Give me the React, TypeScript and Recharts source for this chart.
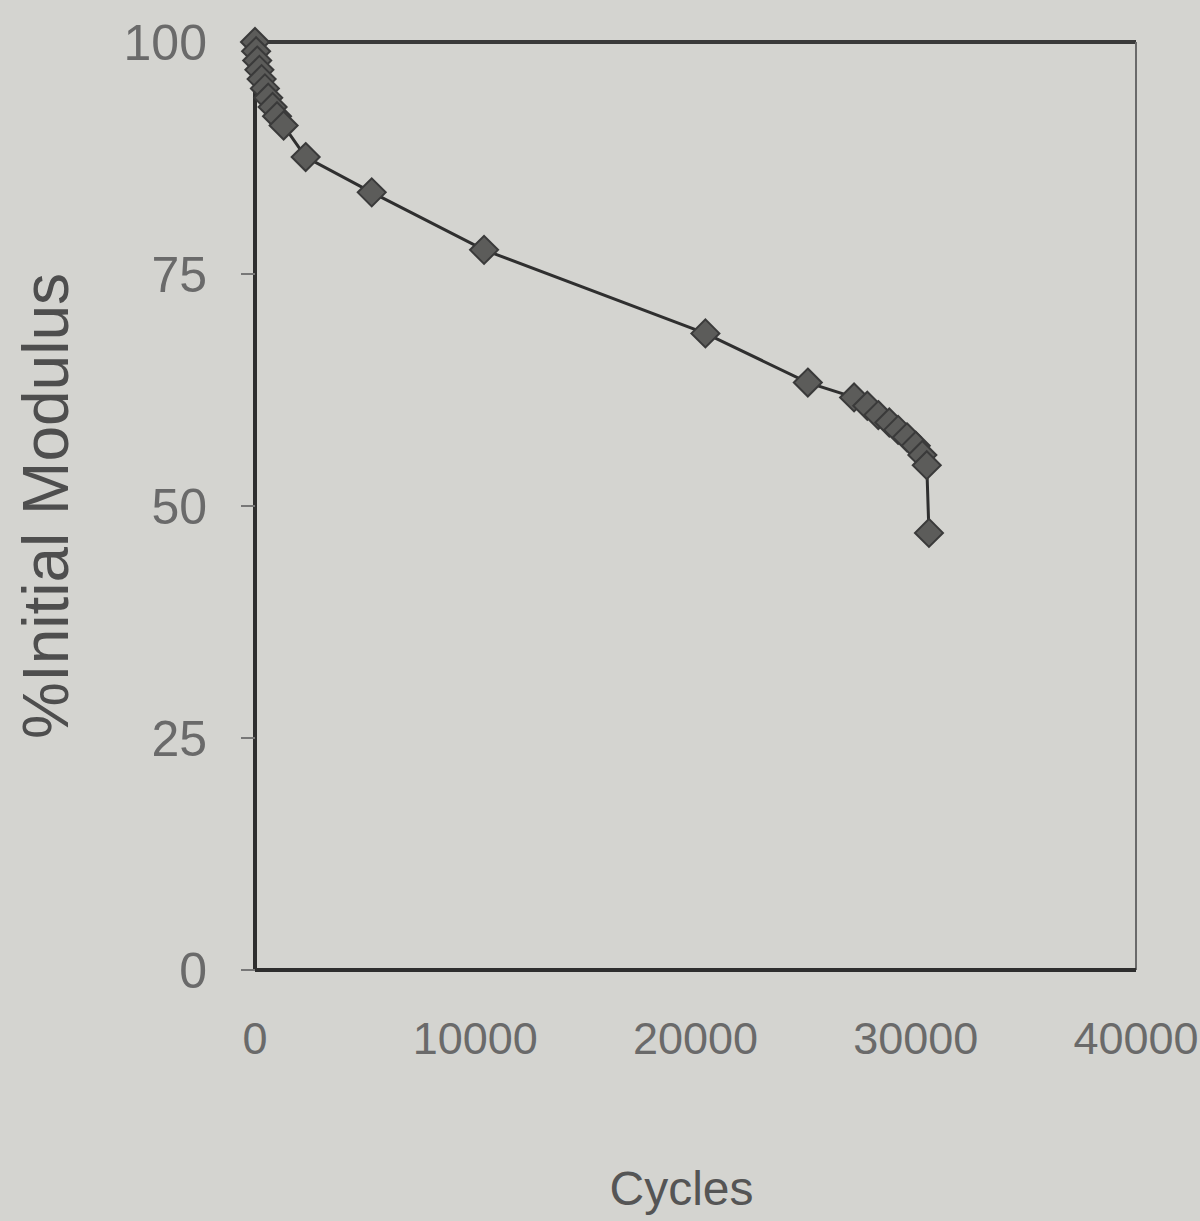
import React from 'react';
import { LineChart, Line, XAxis, YAxis, ReferenceLine } from 'recharts';

const cycles = [0, 50, 100, 200, 300, 450, 600, 800, 1000, 1300, 2300, 5300, 10400, 20450, 25100, 27200, 27800, 28300, 28800, 29200, 29600, 30000, 30300, 30500, 30600];
const modulus = [100, 99, 98, 97, 96, 95, 94, 93, 92, 91, 87.6, 83.8, 77.6, 68.6, 63.3, 61.7, 60.8, 59.8, 59, 58.2, 57.4, 56.5, 55.5, 54.4, 47.1];
const xTicks = [0, 10000, 20000, 30000, 40000];
const yTicks = [0, 25, 50, 75, 100];

const data = cycles.map((c, i) => ({ cycles: c, modulus: modulus[i] }));

const FONT = '"Liberation Sans", Arial, sans-serif';

const Diamond = (props: any) => {
  const { cx, cy } = props;
  if (cx == null || cy == null) return null;
  const r = 14;
  return (
    <polygon
      points={`${cx},${cy - r} ${cx + r},${cy} ${cx},${cy + r} ${cx - r},${cy}`}
      fill="#5c5c5a"
      stroke="#3a3a3a"
      strokeWidth={2}
    />
  );
};

export default function App() {
  return (
    <div style={{ position: 'fixed', left: 0, top: 0, width: 1200, height: 1221, background: '#d4d4d0' }}>
      <LineChart
        width={1200}
        height={1221}
        data={data}
        margin={{ top: 42, right: 64, bottom: 0, left: 0 }}
      >
        <XAxis
          dataKey="cycles"
          type="number"
          domain={[0, 40000]}
          ticks={xTicks}
          height={251}
          tickLine={false}
          tickMargin={46}
          axisLine={{ stroke: '#2e2e2e', strokeWidth: 4 }}
          tick={{ fill: '#6a6a6a', fontSize: 45, fontFamily: FONT }}
          label={{
            content: (p: any) => {
              const vb = p.viewBox || {};
              const x = (vb.x ?? 255) + (vb.width ?? 881) / 2 - 14;
              const y = 1205;
              return (
                <text x={x} y={y} textAnchor="middle" fill="#555" fontSize={48} fontFamily={FONT}>
                  Cycles
                </text>
              );
            },
          }}
        />
        <YAxis
          dataKey="modulus"
          type="number"
          domain={[0, 100]}
          ticks={yTicks}
          width={255}
          tickSize={14}
          tickMargin={34}
          tickLine={{ stroke: '#777', strokeWidth: 2 }}
          axisLine={{ stroke: '#2e2e2e', strokeWidth: 4 }}
          tick={{ fill: '#6a6a6a', fontSize: 50, fontFamily: FONT }}
          label={{
            content: (p: any) => {
              const vb = p.viewBox || {};
              const x = 46;
              const y = (vb.y ?? 42) + (vb.height ?? 928) / 2;
              return (
                <text
                  x={x}
                  y={y}
                  transform={`rotate(-90, ${x}, ${y})`}
                  textAnchor="middle"
                  dominantBaseline="central"
                  fill="#4e4e4e"
                  fontSize={64}
                  fontFamily={FONT}
                >
                  %Initial Modulus
                </text>
              );
            },
          }}
        />
        <ReferenceLine y={100} stroke="#3a3a3a" strokeWidth={4} ifOverflow="visible" />
        <ReferenceLine x={40000} stroke="#6a6a6a" strokeWidth={2} ifOverflow="visible" />
        <Line
          type="linear"
          dataKey="modulus"
          stroke="#2f2f2f"
          strokeWidth={3}
          dot={<Diamond />}
          isAnimationActive={false}
        />
      </LineChart>
    </div>
  );
}
